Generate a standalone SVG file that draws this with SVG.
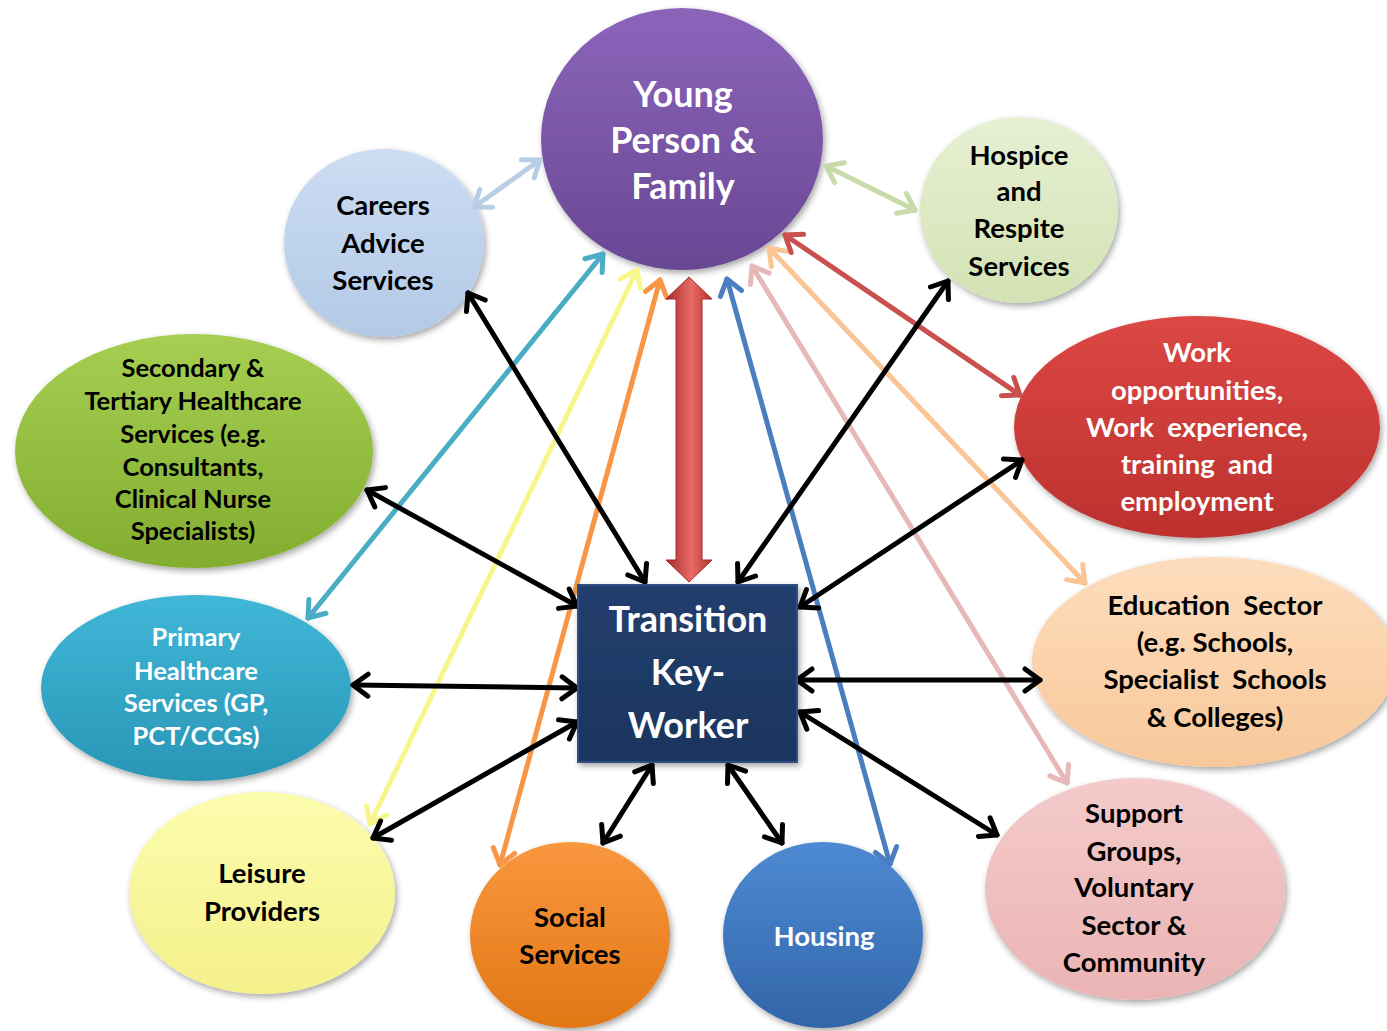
<svg xmlns="http://www.w3.org/2000/svg" width="1387" height="1031" viewBox="0 0 1387 1031">
<style>
.t{font-family:Lato,"Open Sans","Liberation Sans",sans-serif;font-weight:bold;text-anchor:middle;white-space:pre}
.w{fill:#fff}
.k{fill:#000}
.s34{font-size:36px}
.s26{font-size:27.5px}
.s24{font-size:25.5px}
.c{fill:none;stroke-width:5;stroke-linecap:round}
.n{filter:url(#sh)}
</style>
<defs>
<filter id="sh" x="-20%" y="-20%" width="140%" height="140%">
<feDropShadow dx="2" dy="3" stdDeviation="3" flood-color="#000" flood-opacity="0.35"/>
</filter>
<linearGradient id="gP" x1="0" y1="0" x2="0" y2="1"><stop offset="0" stop-color="#8B65BA"/><stop offset="1" stop-color="#694793"/></linearGradient>
<linearGradient id="gCa" x1="0" y1="0" x2="0" y2="1"><stop offset="0" stop-color="#CCDDF3"/><stop offset="1" stop-color="#B3C9E6"/></linearGradient>
<linearGradient id="gH" x1="0" y1="0" x2="0" y2="1"><stop offset="0" stop-color="#E7F0D3"/><stop offset="1" stop-color="#D3E2B4"/></linearGradient>
<linearGradient id="gW" x1="0" y1="0" x2="0" y2="1"><stop offset="0" stop-color="#DC4744"/><stop offset="1" stop-color="#BC312E"/></linearGradient>
<linearGradient id="gE" x1="0" y1="0" x2="0" y2="1"><stop offset="0" stop-color="#FDDDBD"/><stop offset="1" stop-color="#F8C89A"/></linearGradient>
<linearGradient id="gS" x1="0" y1="0" x2="0" y2="1"><stop offset="0" stop-color="#F4CACA"/><stop offset="1" stop-color="#EBB4B4"/></linearGradient>
<linearGradient id="gHo" x1="0" y1="0" x2="0" y2="1"><stop offset="0" stop-color="#4D8AD3"/><stop offset="1" stop-color="#3265A8"/></linearGradient>
<linearGradient id="gSo" x1="0" y1="0" x2="0" y2="1"><stop offset="0" stop-color="#F9973E"/><stop offset="1" stop-color="#E27716"/></linearGradient>
<linearGradient id="gL" x1="0" y1="0" x2="0" y2="1"><stop offset="0" stop-color="#FCFCAE"/><stop offset="1" stop-color="#F4F08A"/></linearGradient>
<linearGradient id="gPr" x1="0" y1="0" x2="0" y2="1"><stop offset="0" stop-color="#40B7D7"/><stop offset="1" stop-color="#2996B6"/></linearGradient>
<linearGradient id="gSe" x1="0" y1="0" x2="0" y2="1"><stop offset="0" stop-color="#A6CF52"/><stop offset="1" stop-color="#82AD2E"/></linearGradient>
<linearGradient id="gT" x1="0" y1="0" x2="0" y2="1"><stop offset="0" stop-color="#223F6E"/><stop offset="1" stop-color="#1B355E"/></linearGradient>
<linearGradient id="gR" x1="0" y1="0" x2="1" y2="0"><stop offset="0" stop-color="#A52A28"/><stop offset="0.55" stop-color="#E86A66"/><stop offset="1" stop-color="#B93431"/></linearGradient>
<marker id="mK" markerUnits="userSpaceOnUse" markerWidth="30" markerHeight="30" viewBox="-20 -15 30 30" refX="0" refY="0" orient="auto-start-reverse" overflow="visible"><path d="M-15,-11 L0,0 L-15,11" fill="none" stroke="#000" stroke-width="5" stroke-linecap="round" stroke-linejoin="round"/></marker>
<marker id="mCy" markerUnits="userSpaceOnUse" markerWidth="30" markerHeight="30" viewBox="-20 -15 30 30" refX="0" refY="0" orient="auto-start-reverse" overflow="visible"><path d="M-15,-11 L0,0 L-15,11" fill="none" stroke="#4BACC6" stroke-width="5" stroke-linecap="round" stroke-linejoin="round"/></marker>
<marker id="mY" markerUnits="userSpaceOnUse" markerWidth="30" markerHeight="30" viewBox="-20 -15 30 30" refX="0" refY="0" orient="auto-start-reverse" overflow="visible"><path d="M-15,-11 L0,0 L-15,11" fill="none" stroke="#F8F68A" stroke-width="5" stroke-linecap="round" stroke-linejoin="round"/></marker>
<marker id="mO" markerUnits="userSpaceOnUse" markerWidth="30" markerHeight="30" viewBox="-20 -15 30 30" refX="0" refY="0" orient="auto-start-reverse" overflow="visible"><path d="M-15,-11 L0,0 L-15,11" fill="none" stroke="#F79646" stroke-width="5" stroke-linecap="round" stroke-linejoin="round"/></marker>
<marker id="mB" markerUnits="userSpaceOnUse" markerWidth="30" markerHeight="30" viewBox="-20 -15 30 30" refX="0" refY="0" orient="auto-start-reverse" overflow="visible"><path d="M-15,-11 L0,0 L-15,11" fill="none" stroke="#4A7EBF" stroke-width="5" stroke-linecap="round" stroke-linejoin="round"/></marker>
<marker id="mPk" markerUnits="userSpaceOnUse" markerWidth="30" markerHeight="30" viewBox="-20 -15 30 30" refX="0" refY="0" orient="auto-start-reverse" overflow="visible"><path d="M-15,-11 L0,0 L-15,11" fill="none" stroke="#E6B9B8" stroke-width="5" stroke-linecap="round" stroke-linejoin="round"/></marker>
<marker id="mPe" markerUnits="userSpaceOnUse" markerWidth="30" markerHeight="30" viewBox="-20 -15 30 30" refX="0" refY="0" orient="auto-start-reverse" overflow="visible"><path d="M-15,-11 L0,0 L-15,11" fill="none" stroke="#FAC495" stroke-width="5" stroke-linecap="round" stroke-linejoin="round"/></marker>
<marker id="mR" markerUnits="userSpaceOnUse" markerWidth="30" markerHeight="30" viewBox="-20 -15 30 30" refX="0" refY="0" orient="auto-start-reverse" overflow="visible"><path d="M-15,-11 L0,0 L-15,11" fill="none" stroke="#C9504C" stroke-width="5" stroke-linecap="round" stroke-linejoin="round"/></marker>
<marker id="mG" markerUnits="userSpaceOnUse" markerWidth="30" markerHeight="30" viewBox="-20 -15 30 30" refX="0" refY="0" orient="auto-start-reverse" overflow="visible"><path d="M-15,-11 L0,0 L-15,11" fill="none" stroke="#C8DBAA" stroke-width="5" stroke-linecap="round" stroke-linejoin="round"/></marker>
<marker id="mLb" markerUnits="userSpaceOnUse" markerWidth="30" markerHeight="30" viewBox="-20 -15 30 30" refX="0" refY="0" orient="auto-start-reverse" overflow="visible"><path d="M-15,-11 L0,0 L-15,11" fill="none" stroke="#B9CDE5" stroke-width="5" stroke-linecap="round" stroke-linejoin="round"/></marker>
</defs>
<rect width="1387" height="1031" fill="#fff"/>

<g id="young-person">
<ellipse class="n" cx="682" cy="139" rx="141" ry="131" fill="url(#gP)"/>
<text class="t w s34"><tspan x="683" y="107">Young</tspan><tspan x="683" y="153">Person &amp;</tspan><tspan x="683" y="199">Family</tspan></text>
</g>
<g id="careers">
<ellipse class="n" cx="384" cy="243" rx="100" ry="94" fill="url(#gCa)"/>
<text class="t k s26"><tspan x="383" y="215">Careers</tspan><tspan x="383" y="253">Advice</tspan><tspan x="383" y="290">Services</tspan></text>
</g>
<g id="hospice">
<ellipse class="n" cx="1019" cy="210" rx="99" ry="93" fill="url(#gH)"/>
<text class="t k s26"><tspan x="1019" y="165">Hospice</tspan><tspan x="1019" y="201">and</tspan><tspan x="1019" y="238">Respite</tspan><tspan x="1019" y="276">Services</tspan></text>
</g>
<g id="work">
<ellipse class="n" cx="1197" cy="427" rx="183" ry="111" fill="url(#gW)"/>
<text class="t w s26"><tspan x="1197" y="362">Work</tspan><tspan x="1197" y="400">opportunities,</tspan><tspan x="1197" y="437">Work  experience,</tspan><tspan x="1197" y="474">training  and</tspan><tspan x="1197" y="511">employment</tspan></text>
</g>
<g id="education">
<ellipse class="n" cx="1214" cy="662" rx="182" ry="105" fill="url(#gE)"/>
<text class="t k s26"><tspan x="1215" y="615">Education  Sector</tspan><tspan x="1215" y="652">(e.g. Schools,</tspan><tspan x="1215" y="689">Specialist  Schools</tspan><tspan x="1215" y="727">&amp; Colleges)</tspan></text>
</g>
<g id="support">
<ellipse class="n" cx="1135" cy="889" rx="150" ry="111" fill="url(#gS)"/>
<text class="t k s26"><tspan x="1134" y="823">Support</tspan><tspan x="1134" y="861">Groups,</tspan><tspan x="1134" y="897">Voluntary</tspan><tspan x="1134" y="935">Sector &amp;</tspan><tspan x="1134" y="972">Community</tspan></text>
</g>
<g id="housing">
<ellipse class="n" cx="823" cy="935" rx="100" ry="93" fill="url(#gHo)"/>
<text class="t w s26" x="824" y="946">Housing</text>
</g>
<g id="social">
<ellipse class="n" cx="570" cy="935" rx="100" ry="93" fill="url(#gSo)"/>
<text class="t k s26"><tspan x="570" y="927">Social</tspan><tspan x="570" y="964">Services</tspan></text>
</g>
<g id="leisure">
<ellipse class="n" cx="262" cy="893" rx="133" ry="101" fill="url(#gL)"/>
<text class="t k s26"><tspan x="262" y="883">Leisure</tspan><tspan x="262" y="921">Providers</tspan></text>
</g>
<g id="primary">
<ellipse class="n" cx="196" cy="688" rx="155" ry="93" fill="url(#gPr)"/>
<text class="t w s24"><tspan x="196" y="646">Primary</tspan><tspan x="196" y="680">Healthcare</tspan><tspan x="196" y="712">Services (GP,</tspan><tspan x="196" y="745">PCT/CCGs)</tspan></text>
</g>
<g id="secondary">
<ellipse class="n" cx="194" cy="451" rx="179" ry="117" fill="url(#gSe)"/>
<text class="t k s24"><tspan x="193" y="377">Secondary &amp;</tspan><tspan x="193" y="410">Tertiary Healthcare</tspan><tspan x="193" y="443">Services (e.g.</tspan><tspan x="193" y="476">Consultants,</tspan><tspan x="193" y="508">Clinical Nurse</tspan><tspan x="193" y="540">Specialists)</tspan></text>
</g>

<g id="connectors">
<line class="c" stroke="#4BACC6" x1="308" y1="618" x2="603" y2="254" marker-start="url(#mCy)" marker-end="url(#mCy)"/>
<line class="c" stroke="#F8F68A" x1="370" y1="824" x2="637" y2="270" marker-start="url(#mY)" marker-end="url(#mY)"/>
<line class="c" stroke="#F79646" x1="500" y1="865" x2="660" y2="280" marker-start="url(#mO)" marker-end="url(#mO)"/>
<line class="c" stroke="#4A7EBF" x1="890" y1="864" x2="727" y2="279" marker-start="url(#mB)" marker-end="url(#mB)"/>
<line class="c" stroke="#E6B9B8" x1="1067" y1="783" x2="752" y2="266" marker-start="url(#mPk)" marker-end="url(#mPk)"/>
<line class="c" stroke="#FAC495" x1="1085" y1="583" x2="769" y2="248" marker-start="url(#mPe)" marker-end="url(#mPe)"/>
<line class="c" stroke="#C9504C" x1="1020" y1="395" x2="785" y2="235" marker-start="url(#mR)" marker-end="url(#mR)"/>
<line class="c" stroke="#C8DBAA" x1="915" y1="210" x2="826" y2="166" marker-start="url(#mG)" marker-end="url(#mG)"/>
<line class="c" stroke="#B9CDE5" x1="474" y1="207" x2="540" y2="160" marker-start="url(#mLb)" marker-end="url(#mLb)"/>
<polygon points="689,277 712,299 702,299 702,560 712,560 689,582 666,560 676,560 676,299 666,299" fill="url(#gR)" stroke="#A52A28" stroke-width="1"/>
<line class="c" stroke="#000" x1="468" y1="293" x2="645" y2="582" marker-start="url(#mK)" marker-end="url(#mK)"/>
<line class="c" stroke="#000" x1="367" y1="490" x2="577" y2="606" marker-start="url(#mK)" marker-end="url(#mK)"/>
<line class="c" stroke="#000" x1="353" y1="685" x2="577" y2="688" marker-start="url(#mK)" marker-end="url(#mK)"/>
<line class="c" stroke="#000" x1="373" y1="838" x2="577" y2="722" marker-start="url(#mK)" marker-end="url(#mK)"/>
<line class="c" stroke="#000" x1="652" y1="765" x2="603" y2="843" marker-start="url(#mK)" marker-end="url(#mK)"/>
<line class="c" stroke="#000" x1="728" y1="765" x2="782" y2="843" marker-start="url(#mK)" marker-end="url(#mK)"/>
<line class="c" stroke="#000" x1="800" y1="712" x2="997" y2="835" marker-start="url(#mK)" marker-end="url(#mK)"/>
<line class="c" stroke="#000" x1="797" y1="680" x2="1040" y2="680" marker-start="url(#mK)" marker-end="url(#mK)"/>
<line class="c" stroke="#000" x1="800" y1="607" x2="1022" y2="460" marker-start="url(#mK)" marker-end="url(#mK)"/>
<line class="c" stroke="#000" x1="738" y1="582" x2="948" y2="281" marker-start="url(#mK)" marker-end="url(#mK)"/>
</g>

<g id="transition-key-worker">
<rect class="n" x="578" y="585" width="219" height="177" fill="url(#gT)" stroke="#2E4F85" stroke-width="2"/>
<text class="t w s34"><tspan x="688" y="632">Transition</tspan><tspan x="688" y="685">Key-</tspan><tspan x="688" y="738">Worker</tspan></text>
</g>
</svg>
